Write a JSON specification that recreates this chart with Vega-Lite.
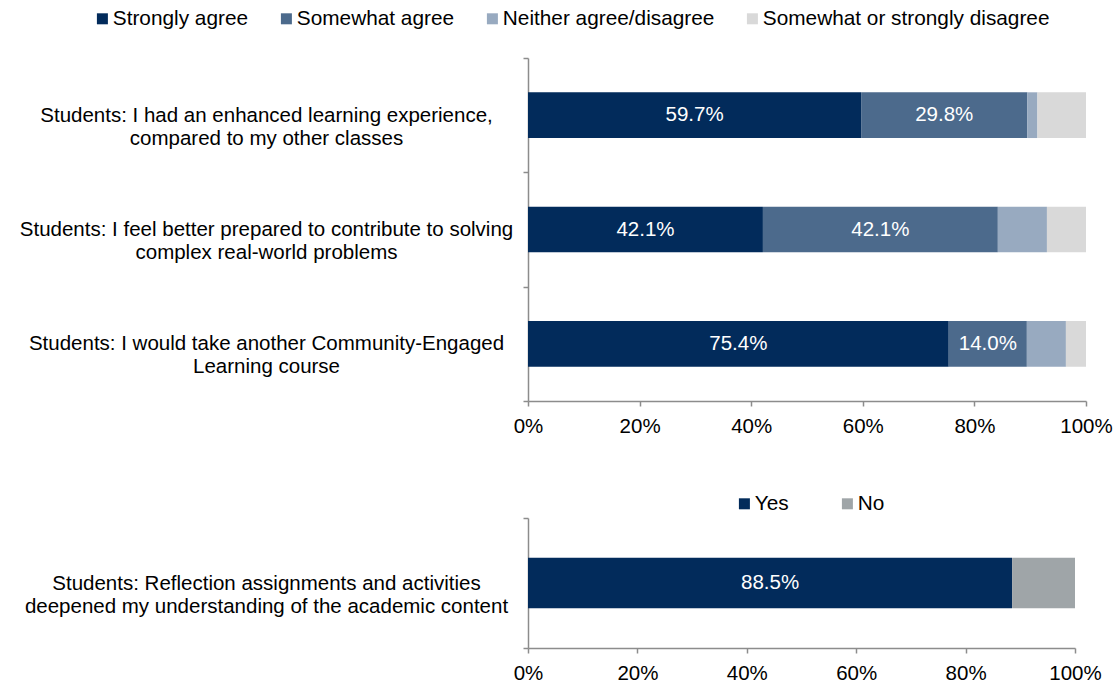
{
  "$schema": "https://vega.github.io/schema/vega-lite/v6.json",
  "background": "white",
  "padding": {"left": 19, "top": 8, "right": 5, "bottom": 5},
  "config": {
    "font": "Liberation Sans",
    "view": {"stroke": null},
    "axis": {"labelFont": "Liberation Sans", "labelColor": "black", "labelFontSize": 20.5, "domainColor": "#8c8c8c", "tickColor": "#8c8c8c", "domainWidth": 1.5, "tickWidth": 1.5, "tickSize": 5, "grid": false},
    "legend": {"labelFont": "Liberation Sans", "labelColor": "black"}
  },
  "datasets": {
    "agree": [
      {"q": "Students: I had an enhanced learning experience,|compared to my other classes", "cat": "Strongly agree", "value": 0.597, "rank": 1},
      {"q": "Students: I had an enhanced learning experience,|compared to my other classes", "cat": "Somewhat agree", "value": 0.298, "rank": 2},
      {"q": "Students: I had an enhanced learning experience,|compared to my other classes", "cat": "Neither agree/disagree", "value": 0.018, "rank": 3},
      {"q": "Students: I had an enhanced learning experience,|compared to my other classes", "cat": "Somewhat or strongly disagree", "value": 0.087, "rank": 4},
      {"q": "Students: I feel better prepared to contribute to solving|complex real-world problems", "cat": "Strongly agree", "value": 0.421, "rank": 1},
      {"q": "Students: I feel better prepared to contribute to solving|complex real-world problems", "cat": "Somewhat agree", "value": 0.421, "rank": 2},
      {"q": "Students: I feel better prepared to contribute to solving|complex real-world problems", "cat": "Neither agree/disagree", "value": 0.088, "rank": 3},
      {"q": "Students: I feel better prepared to contribute to solving|complex real-world problems", "cat": "Somewhat or strongly disagree", "value": 0.070, "rank": 4},
      {"q": "Students:  I would take another Community-Engaged|Learning course", "cat": "Strongly agree", "value": 0.754, "rank": 1},
      {"q": "Students:  I would take another Community-Engaged|Learning course", "cat": "Somewhat agree", "value": 0.140, "rank": 2},
      {"q": "Students:  I would take another Community-Engaged|Learning course", "cat": "Neither agree/disagree", "value": 0.070, "rank": 3},
      {"q": "Students:  I would take another Community-Engaged|Learning course", "cat": "Somewhat or strongly disagree", "value": 0.036, "rank": 4}
    ],
    "reflect": [
      {"q": "Students:  Reflection assignments and activities|deepened my understanding of the academic content", "cat": "Yes", "value": 0.885, "rank": 1},
      {"q": "Students:  Reflection assignments and activities|deepened my understanding of the academic content", "cat": "No", "value": 0.115, "rank": 2}
    ]
  },
  "vconcat": [
    {
      "width": 558,
      "height": 343,
      "data": {"name": "agree"},
      "encoding": {
        "y": {
          "field": "q", "type": "nominal",
          "sort": [
            "Students: I had an enhanced learning experience,|compared to my other classes",
            "Students: I feel better prepared to contribute to solving|complex real-world problems",
            "Students:  I would take another Community-Engaged|Learning course"
          ],
          "scale": {"paddingInner": 0, "paddingOuter": 0},
          "axis": {"title": null, "labelExpr": "split(datum.label, '|')", "labelAlign": "center", "labelBaseline": "middle", "labelPadding": 257, "labelLimit": 600, "labelLineHeight": 23, "tickBand": "extent"}
        }
      },
      "layer": [
        {
          "mark": {"type": "bar", "height": {"band": 0.4}},
          "encoding": {
            "x": {"field": "value", "type": "quantitative", "stack": "zero", "title": null,
                  "scale": {"domain": [0, 1], "nice": false},
                  "axis": {"format": ".0%", "values": [0, 0.2, 0.4, 0.6, 0.8, 1], "labelPadding": 10, "labelFlush": false}},
            "color": {
              "field": "cat", "type": "nominal",
              "scale": {"domain": ["Strongly agree", "Somewhat agree", "Neither agree/disagree", "Somewhat or strongly disagree"],
                        "range": ["#022b5b", "#4c6a8c", "#98aac0", "#d9d9d9"]},
              "legend": {"orient": "none", "legendX": -436, "legendY": -50, "direction": "horizontal", "columns": 4, "title": null,
                         "symbolType": "square", "symbolSize": 121, "symbolStrokeWidth": 0, "labelFontSize": 20.8, "labelLimit": 400,
                         "columnPadding": 27, "labelOffset": 0}
            },
            "order": {"field": "rank", "type": "quantitative"}
          }
        },
        {
          "transform": [
            {"stack": "value", "groupby": ["q"], "sort": [{"field": "rank", "order": "ascending"}], "as": ["v0", "v1"]},
            {"filter": {"field": "cat", "oneOf": ["Strongly agree", "Somewhat agree"]}},
            {"fold": ["v0", "v1"], "as": ["edge", "pos"]},
            {"aggregate": [{"op": "mean", "field": "pos", "as": "mid"}, {"op": "max", "field": "value", "as": "share"}], "groupby": ["q", "cat"]}
          ],
          "mark": {"type": "text", "color": "white", "fontSize": 20.5, "baseline": "middle", "align": "center"},
          "encoding": {
            "x": {"field": "mid", "type": "quantitative", "title": null},
            "text": {"field": "share", "type": "quantitative", "format": ".1%"}
          }
        }
      ]
    },
    {
      "width": 547,
      "height": 130,
      "data": {"name": "reflect"},
      "encoding": {
        "y": {
          "field": "q", "type": "nominal",
          "scale": {"paddingInner": 0, "paddingOuter": 0},
          "axis": {"title": null, "labelExpr": "split(datum.label, '|')", "labelAlign": "center", "labelBaseline": "middle", "labelPadding": 257, "labelLimit": 600, "labelLineHeight": 23, "tickBand": "extent"}
        }
      },
      "layer": [
        {
          "mark": {"type": "bar", "height": {"band": 0.39}},
          "encoding": {
            "x": {"field": "value", "type": "quantitative", "stack": "zero", "title": null,
                  "scale": {"domain": [0, 1], "nice": false},
                  "axis": {"format": ".0%", "values": [0, 0.2, 0.4, 0.6, 0.8, 1], "labelPadding": 10, "labelFlush": false}},
            "color": {
              "field": "cat", "type": "nominal",
              "scale": {"domain": ["Yes", "No"], "range": ["#022b5b", "#9fa5a8"]},
              "legend": {"orient": "none", "legendX": 206, "legendY": -25, "direction": "horizontal", "columns": 2, "title": null,
                         "symbolType": "square", "symbolSize": 121, "symbolStrokeWidth": 0, "labelFontSize": 20.8, "labelLimit": 400,
                         "columnPadding": 48, "labelOffset": 0}
            },
            "order": {"field": "rank", "type": "quantitative"}
          }
        },
        {
          "transform": [
            {"stack": "value", "groupby": ["q"], "sort": [{"field": "rank", "order": "ascending"}], "as": ["v0", "v1"]},
            {"filter": {"field": "cat", "oneOf": ["Yes"]}},
            {"fold": ["v0", "v1"], "as": ["edge", "pos"]},
            {"aggregate": [{"op": "mean", "field": "pos", "as": "mid"}, {"op": "max", "field": "value", "as": "share"}], "groupby": ["q", "cat"]}
          ],
          "mark": {"type": "text", "color": "white", "fontSize": 20.5, "baseline": "middle", "align": "center"},
          "encoding": {
            "x": {"field": "mid", "type": "quantitative", "title": null},
            "text": {"field": "share", "type": "quantitative", "format": ".1%"}
          }
        }
      ]
    }
  ],
  "spacing": 56,
  "resolve": {"scale": {"color": "independent", "x": "independent", "y": "independent"}, "legend": {"color": "independent"}}
}
